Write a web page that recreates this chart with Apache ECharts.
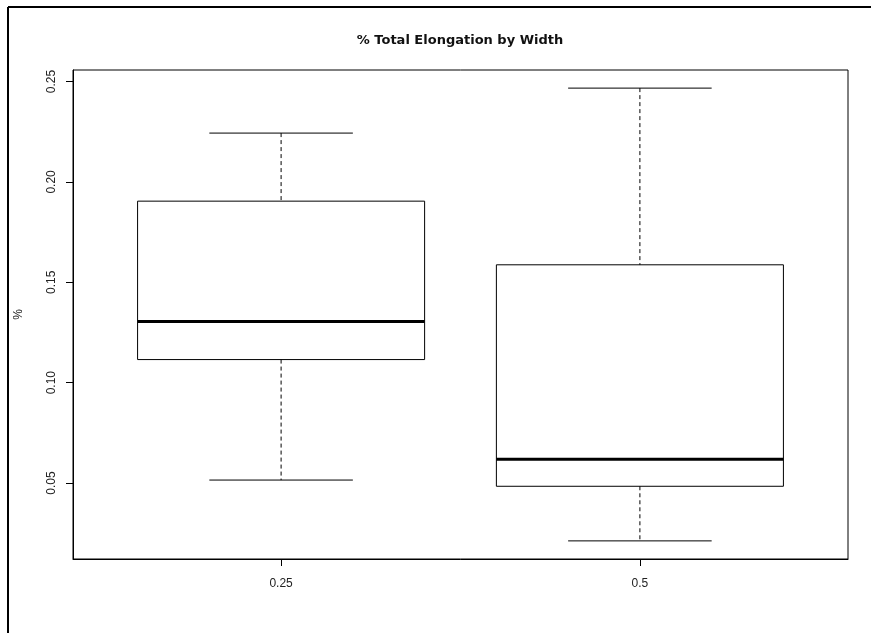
<!DOCTYPE html>
<html>
<head>
<meta charset="utf-8">
<script src="https://cdn.jsdelivr.net/npm/echarts@6/dist/echarts.min.js"></script>
<style>
html,body{margin:0;padding:0;background:#fff;}
#chart{width:871px;height:633px;}
</style>
</head>
<body>
<div id="chart"></div>
<script>
const categories = ['0.25', '0.5'];
const mins    = [0.0515, 0.0212];
const q1s     = [0.1115, 0.0484];
const medians = [0.1305, 0.0619];
const q3s     = [0.1904, 0.1587];
const maxs    = [0.2243, 0.2467];
const yTicks  = [0.05, 0.10, 0.15, 0.20, 0.25];

const boxData = categories.map((c, i) => [i + 1, mins[i], q1s[i], medians[i], q3s[i], maxs[i]]);

// R-style axis extension (4% each side)
const lo = Math.min(...mins), hi = Math.max(...maxs);
const ext = (hi - lo) * 0.04;
const xLo = 0.5 - 0.08, xHi = categories.length + 0.5 + 0.08;

const chart = echarts.init(document.getElementById('chart'), null, {renderer: 'canvas'});

const font = 'Liberation Sans, Arial, sans-serif';

chart.setOption({
  backgroundColor: '#ffffff',
  animation: false,
  title: {
    text: '% Total Elongation by Width',
    left: 455,
    top: 29,
    textAlign: 'center',
    textStyle: {fontFamily: 'DejaVu Sans, sans-serif', fontSize: 13, fontWeight: 'bold', color: '#111'}
  },
  grid: {
    left: 73, right: 23, top: 70, bottom: 74,
    show: true, borderColor: '#000', borderWidth: 1, backgroundColor: 'transparent'
  },
  xAxis: {
    type: 'value',
    min: xLo, max: xHi,
    splitLine: {show: false},
    axisLine: {show: true, onZero: false, lineStyle: {color: '#000', width: 1}},
    axisTick: {show: true, length: 7, inside: false, customValues: categories.map((c, i) => i + 1), lineStyle: {color: '#000'}},
    axisLabel: {
      show: true, margin: 19, fontFamily: font, fontSize: 12, color: '#222',
      customValues: categories.map((c, i) => i + 1),
      formatter: v => categories[Math.round(v) - 1]
    }
  },
  yAxis: {
    type: 'value',
    min: lo - ext, max: hi + ext,
    name: '%',
    nameLocation: 'middle',
    nameGap: 48,
    nameRotate: 90,
    nameTextStyle: {fontFamily: font, fontSize: 12, color: '#222'},
    splitLine: {show: false},
    axisLine: {show: true, lineStyle: {color: '#000', width: 1}},
    axisTick: {show: true, length: 7, inside: false, customValues: yTicks, lineStyle: {color: '#000'}},
    axisLabel: {
      show: true, margin: 15, rotate: 90, fontFamily: font, fontSize: 12, color: '#222',
      customValues: yTicks,
      formatter: v => v.toFixed(2)
    }
  },
  graphic: [
    {type: 'line', shape: {x1: 8, y1: 7, x2: 8, y2: 633}, style: {stroke: '#000', lineWidth: 2}, z: 100},
    {type: 'line', shape: {x1: 8, y1: 7, x2: 871, y2: 7}, style: {stroke: '#000', lineWidth: 2}, z: 100}
  ],
  series: [{
    type: 'custom',
    data: boxData,
    encode: {x: 0, y: [1, 2, 3, 4, 5]},
    renderItem: function (params, api) {
      const x = api.value(0);
      const pMin = api.coord([x, api.value(1)]);
      const pQ1 = api.coord([x, api.value(2)]);
      const pMed = api.coord([x, api.value(3)]);
      const pQ3 = api.coord([x, api.value(4)]);
      const pMax = api.coord([x, api.value(5)]);
      const cx = pMed[0];
      const halfBox = api.size([0.4, 0])[0];
      const halfCap = api.size([0.2, 0])[0];
      const solid = {stroke: '#000', lineWidth: 1, fill: null};
      const dashed = {stroke: '#000', lineWidth: 1, lineDash: [4, 3], fill: null};
      return {
        type: 'group',
        children: [
          {type: 'line', shape: {x1: cx, y1: pMax[1], x2: cx, y2: pQ3[1]}, style: dashed},
          {type: 'line', shape: {x1: cx, y1: pQ1[1], x2: cx, y2: pMin[1]}, style: dashed},
          {type: 'line', shape: {x1: cx - halfCap, y1: pMax[1], x2: cx + halfCap, y2: pMax[1]}, style: solid},
          {type: 'line', shape: {x1: cx - halfCap, y1: pMin[1], x2: cx + halfCap, y2: pMin[1]}, style: solid},
          {type: 'rect', shape: {x: cx - halfBox, y: pQ3[1], width: 2 * halfBox, height: pQ1[1] - pQ3[1]},
            style: {stroke: '#000', lineWidth: 1, fill: 'rgba(0,0,0,0)'}},
          {type: 'line', shape: {x1: cx - halfBox, y1: pMed[1], x2: cx + halfBox, y2: pMed[1]},
            style: {stroke: '#000', lineWidth: 3}}
        ]
      };
    }
  }]
});
</script>
</body>
</html>
